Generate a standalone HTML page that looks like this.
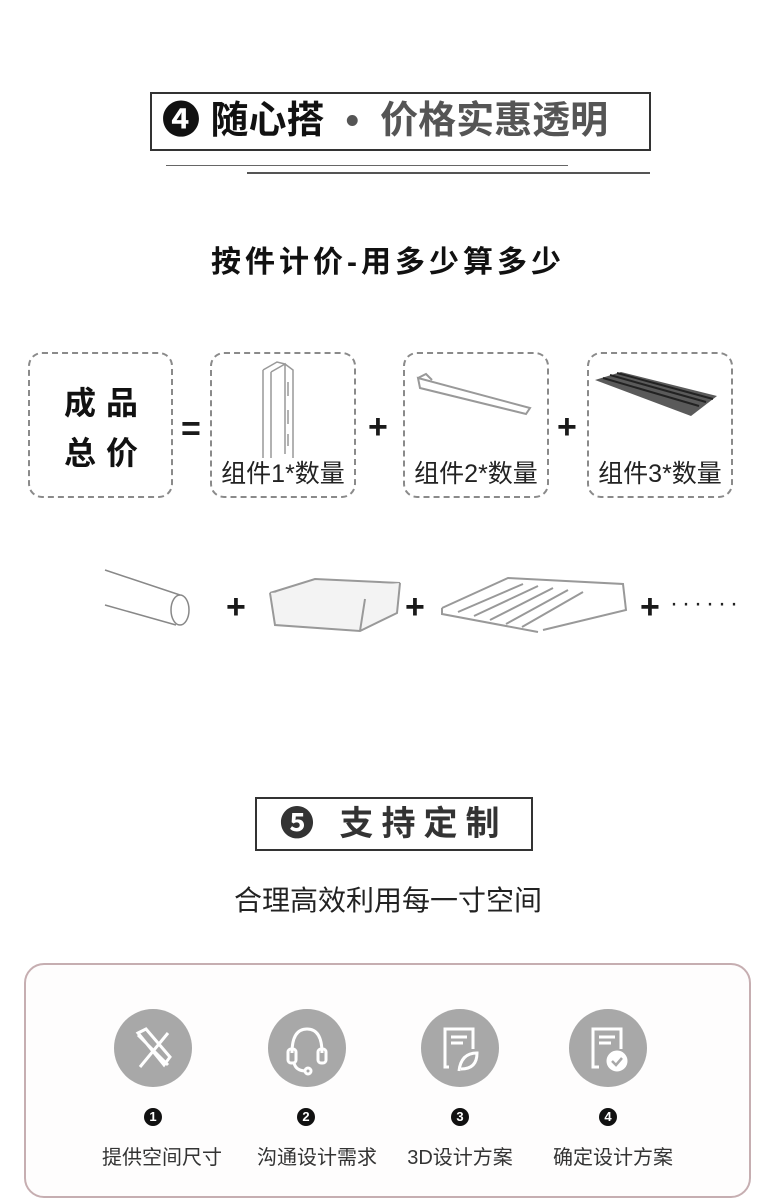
<!DOCTYPE html>
<html><head><meta charset="utf-8"><style>
*{margin:0;padding:0;box-sizing:border-box}
body{width:776px;height:1200px;background:#fff;position:relative;overflow:hidden;font-family:"Liberation Sans","Noto Sans CJK SC",sans-serif;color:#1a1a1a}
.a{position:absolute;white-space:nowrap}
.db{position:absolute;border:2px dashed #8a8a8a;border-radius:14px}
.lbl{position:absolute;left:0;right:0;text-align:center;font-size:25px;color:#222;bottom:6px}
.op{position:absolute;font-size:34px;font-weight:bold;line-height:1}
.circ{position:absolute;width:78px;height:78px;border-radius:50%;background:#a8a8a8}
.num{position:absolute;width:18px;height:18px;border-radius:50%;background:#111;color:#fff;font-size:13px;font-weight:bold;text-align:center;line-height:18px}
.st{position:absolute;font-size:20px;color:#333;width:140px;text-align:center}
</style></head><body>
<div class="a" style="left:150px;top:92px;width:501px;height:59px;border:2px solid #333;"></div>
<div class="a" style="left:162px;top:97px;font-size:38px;font-weight:bold;line-height:48px;letter-spacing:0px;color:#111">❹ 随心搭 <span style="color:#555">&nbsp;•&nbsp; 价格实惠透明</span></div>
<div class="a" style="left:166px;top:165px;width:402px;height:1px;background:#666"></div>
<div class="a" style="left:247px;top:172px;width:403px;height:2px;background:#555"></div>
<div class="a" style="left:0;width:776px;text-align:center;top:237px;font-size:30px;font-weight:bold;letter-spacing:4px;color:#111">按件计价-用多少算多少</div>

<div class="db" style="left:28px;top:352px;width:145px;height:146px"></div>
<div class="a" style="left:64px;top:378px;font-size:32px;font-weight:bold;line-height:50px;letter-spacing:10px;color:#111">成品<br>总价</div>
<div class="op" style="left:181px;top:412px">=</div>
<div class="db" style="left:210px;top:352px;width:146px;height:146px"><div class="lbl">组件1*数量</div></div>
<svg class="a" style="left:255px;top:360px" width="50" height="100"><g fill="none" stroke="#999" stroke-width="1.5"><path d="M8 10 L8 98 M16 12 L16 98 M16 12 L30 4 L30 94 M8 10 L22 2 L30 4 M30 4 L38 10 L38 98"/><path d="M33 22 v14 M33 50 v14 M33 74 v12"/></g></svg>
<div class="op" style="left:368px;top:410px">+</div>
<div class="db" style="left:403px;top:352px;width:146px;height:146px"><div class="lbl">组件2*数量</div></div>
<svg class="a" style="left:412px;top:370px" width="130" height="50"><g fill="none" stroke="#999" stroke-width="2"><path d="M6 8 L118 38 L114 44 L8 18 Z"/><path d="M6 8 L14 4 L20 10"/></g></svg>
<div class="op" style="left:557px;top:410px">+</div>
<div class="db" style="left:587px;top:352px;width:146px;height:146px"><div class="lbl">组件3*数量</div></div>
<svg class="a" style="left:593px;top:370px" width="130" height="50"><polygon points="2,10 28,2 124,26 98,46" fill="#5a5a5a"/><g stroke="#222" stroke-width="2"><line x1="10" y1="8" x2="106" y2="36"/><line x1="17" y1="5" x2="113" y2="32"/><line x1="24" y1="3" x2="120" y2="29"/></g></svg>

<svg class="a" style="left:100px;top:565px" width="100" height="65"><g fill="none" stroke="#888" stroke-width="1.5"><path d="M5 5 L80 30 M5 40 L76 60"/><ellipse cx="80" cy="45" rx="9" ry="15"/></g></svg>
<div class="op" style="left:226px;top:590px">+</div>
<svg class="a" style="left:265px;top:573px" width="140" height="62"><g fill="#f3f3f3" stroke="#999" stroke-width="2"><path d="M5 20 L50 6 L135 10 L100 26 Z"/><path d="M5 20 L10 52 L95 58 L132 40 L135 10 M100 26 L95 58"/></g></svg>
<div class="op" style="left:405px;top:590px">+</div>
<svg class="a" style="left:438px;top:572px" width="195" height="62"><g fill="none" stroke="#999" stroke-width="2"><path d="M4 36 L70 6 L185 12 L188 38 L105 58 M4 36 L4 42 L100 60"/><path d="M20 40 L85 12 M36 44 L100 14 M52 48 L115 16 M68 52 L130 18 M84 55 L145 20"/></g></svg>
<div class="op" style="left:640px;top:590px">+</div>
<div class="a" style="left:670px;top:590px;font-size:24px;letter-spacing:4px;color:#222">······</div>

<div class="a" style="left:255px;top:797px;width:278px;height:54px;border:2px solid #333"></div>
<div class="a" style="left:280px;top:801px;font-size:34px;font-weight:bold;line-height:46px;letter-spacing:8px;color:#333">❺ 支持定制</div>
<div class="a" style="left:0;width:776px;text-align:center;top:879px;font-size:28px;color:#222">合理高效利用每一寸空间</div>

<div class="a" style="left:24px;top:963px;width:727px;height:235px;border:2px solid #c6aeb1;border-radius:20px;background:#fefdfd"></div>
<div class="circ" style="left:114px;top:1009px"></div>
<div class="circ" style="left:268px;top:1009px"></div>
<div class="circ" style="left:421px;top:1009px"></div>
<div class="circ" style="left:569px;top:1009px"></div>
<svg class="a" style="left:114px;top:1009px" width="78" height="78"><g fill="none" stroke="#fff" stroke-width="3"><path d="M24 26 L54 56 M54 24 L26 58 M24 24 L32 20 L56 48 L50 56 Z"/></g></svg>
<svg class="a" style="left:268px;top:1009px" width="78" height="78"><g fill="none" stroke="#fff" stroke-width="3"><path d="M24 44 Q24 20 39 20 Q54 20 54 44"/><rect x="20" y="40" width="8" height="14" rx="3"/><rect x="50" y="40" width="8" height="14" rx="3"/><path d="M26 54 Q28 62 38 62"/><circle cx="40" cy="62" r="3"/></g></svg>
<svg class="a" style="left:421px;top:1009px" width="78" height="78"><g fill="none" stroke="#fff" stroke-width="3"><path d="M28 58 L24 58 L24 20 L52 20 L52 40"/><path d="M30 28 h16 M30 34 h12"/><path d="M38 62 Q40 44 56 44 Q56 60 40 60"/></g></svg>
<svg class="a" style="left:569px;top:1009px" width="78" height="78"><g fill="none" stroke="#fff" stroke-width="3"><path d="M30 58 L24 58 L24 20 L52 20 L52 40"/><path d="M30 28 h16 M30 34 h12"/><circle cx="48" cy="52" r="9" fill="#fff"/></g><path d="M43 52 l4 4 l6 -7" stroke="#a8a8a8" stroke-width="2.5" fill="none"/></svg>
<div class="num" style="left:144px;top:1108px">1</div>
<div class="num" style="left:297px;top:1108px">2</div>
<div class="num" style="left:451px;top:1108px">3</div>
<div class="num" style="left:599px;top:1108px">4</div>
<div class="st" style="left:92px;top:1141px">提供空间尺寸</div>
<div class="st" style="left:247px;top:1141px">沟通设计需求</div>
<div class="st" style="left:390px;top:1141px">3D设计方案</div>
<div class="st" style="left:543px;top:1141px">确定设计方案</div>
</body></html>
